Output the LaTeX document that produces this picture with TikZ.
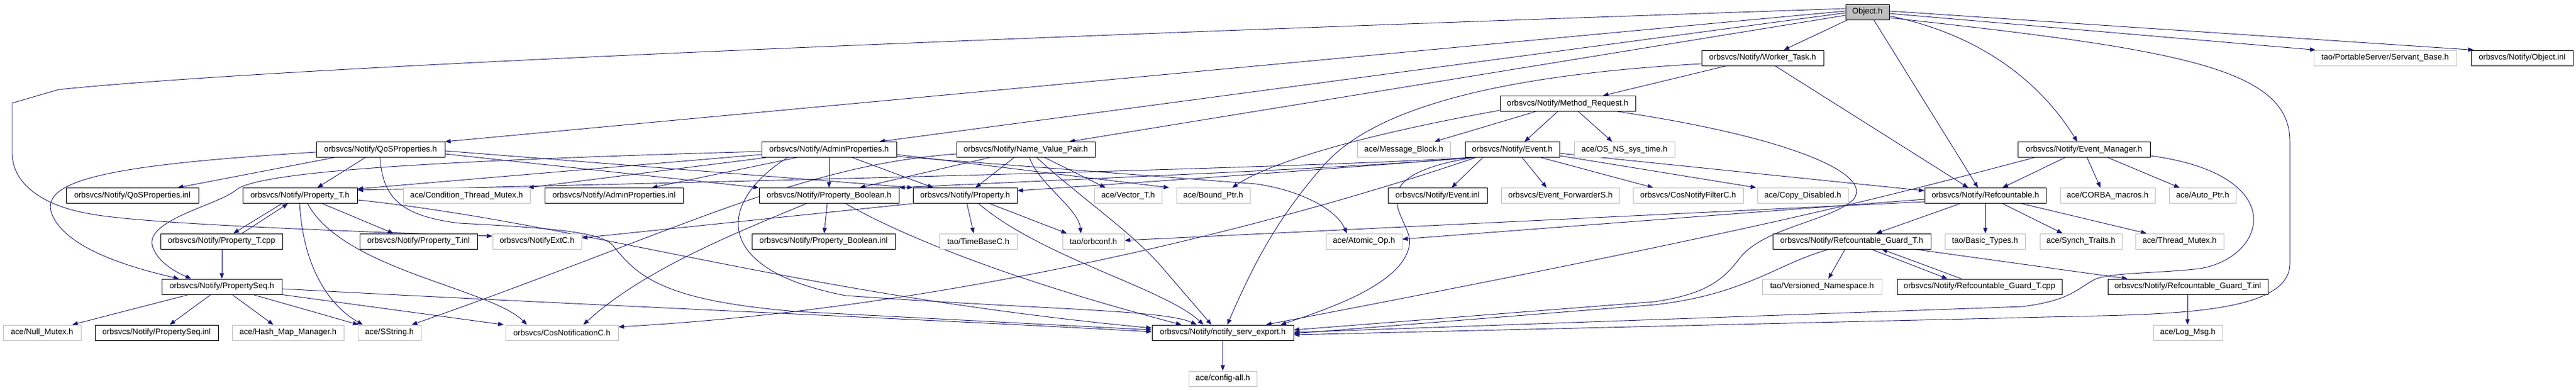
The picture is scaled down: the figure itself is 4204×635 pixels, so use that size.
\documentclass[tikz,border=0pt]{standalone}
\usepackage{fontspec}
\setmainfont{Liberation Sans}
\usetikzlibrary{arrows.meta,backgrounds}
\definecolor{edgec}{HTML}{191970}
\definecolor{grayb}{HTML}{BFBFBF}
\begin{document}
\begin{tikzpicture}[x=1pt,y=-1pt,
  box/.style={rectangle,inner sep=0pt,minimum height=25pt,line width=1pt,font=\fontsize{13.2}{15}\selectfont,text=black},
  bk/.style={box,draw=black,fill=white},
  gy/.style={box,draw=grayb,fill=white},
  rt/.style={box,draw=black,fill=grayb},
  lnk/.style={draw=edgec,line width=0.9pt,-{Triangle[length=9pt,width=7pt,fill=edgec]}}]
\useasboundingbox (0,0) rectangle (4204,635);
% row A
\node[rt,minimum width=71pt] (obj) at (3047.5,19.5) {Object.h};
% row B
\node[bk,minimum width=199pt] (wt) at (2876.5,94.5) {orbsvcs/Notify/Worker\_Task.h};
\node[gy,minimum width=233pt] (sb) at (3892.5,94.5) {tao/PortableServer/Servant\_Base.h};
\node[bk,minimum width=166pt] (oinl) at (4116,94.5) {orbsvcs/Notify/Object.inl};
% row C
\node[bk,minimum width=221pt] (mr) at (2558.5,169) {orbsvcs/Notify/Method\_Request.h};
% row D
\node[bk,minimum width=210pt] (qos) at (621,244) {orbsvcs/Notify/QoSProperties.h};
\node[bk,minimum width=220pt] (adm) at (1353,244) {orbsvcs/Notify/AdminProperties.h};
\node[bk,minimum width=226pt] (nvp) at (1674,244) {orbsvcs/Notify/Name\_Value\_Pair.h};
\node[gy,minimum width=152pt] (mb) at (2291,244) {ace/Message\_Block.h};
\node[bk,minimum width=154pt] (ev) at (2468,244) {orbsvcs/Notify/Event.h};
\node[gy,minimum width=164pt] (ost) at (2651,244) {ace/OS\_NS\_sys\_time.h};
\node[bk,minimum width=216pt] (em) at (3401,244) {orbsvcs/Notify/Event\_Manager.h};
% row E
\node[bk,minimum width=216pt] (qinl) at (216,319) {orbsvcs/Notify/QoSProperties.inl};
\node[bk,minimum width=187pt] (pth) at (489.5,319) {orbsvcs/Notify/Property\_T.h};
\node[gy,minimum width=207pt] (ctm) at (761.5,319) {ace/Condition\_Thread\_Mutex.h};
\node[bk,minimum width=226pt] (ainl) at (1002,319) {orbsvcs/Notify/AdminProperties.inl};
\node[bk,minimum width=228pt] (pb) at (1353,319) {orbsvcs/Notify/Property\_Boolean.h};
\node[bk,minimum width=170pt] (prop) at (1575,319) {orbsvcs/Notify/Property.h};
\node[gy,minimum width=110pt] (vec) at (1841,319) {ace/Vector\_T.h};
\node[gy,minimum width=120pt] (bp) at (1980,319) {ace/Bound\_Ptr.h};
\node[bk,minimum width=162pt] (einl) at (2346,319) {orbsvcs/Notify/Event.inl};
\node[gy,minimum width=193pt] (efs) at (2546.5,319) {orbsvcs/Event\_ForwarderS.h};
\node[gy,minimum width=180pt] (cnf) at (2755,319) {orbsvcs/CosNotifyFilterC.h};
\node[gy,minimum width=148pt] (cd) at (2942,319) {ace/Copy\_Disabled.h};
\node[bk,minimum width=198pt] (rc) at (3240,319) {orbsvcs/Notify/Refcountable.h};
\node[gy,minimum width=155pt] (cm) at (3439.5,319) {ace/CORBA\_macros.h};
\node[gy,minimum width=109pt] (ap) at (3594.5,319) {ace/Auto\_Ptr.h};
% row F
\node[bk,minimum width=199pt] (ptcpp) at (361.5,393.5) {orbsvcs/Notify/Property\_T.cpp};
\node[bk,minimum width=192pt] (ptinl) at (683,393.5) {orbsvcs/Notify/Property\_T.inl};
\node[gy,minimum width=145pt] (nec) at (876.5,393.5) {orbsvcs/NotifyExtC.h};
\node[bk,minimum width=234pt] (pbinl) at (1344,393.5) {orbsvcs/Notify/Property\_Boolean.inl};
\node[gy,minimum width=127pt] (tbc) at (1596.5,393.5) {tao/TimeBaseC.h};
\node[gy,minimum width=101pt] (oc) at (1784.5,393.5) {tao/orbconf.h};
\node[gy,minimum width=124pt] (ao) at (2226,393.5) {ace/Atomic\_Op.h};
\node[bk,minimum width=258pt] (rg) at (3022,393.5) {orbsvcs/Notify/Refcountable\_Guard\_T.h};
\node[gy,minimum width=131pt] (bt) at (3239.5,393.5) {tao/Basic\_Types.h};
\node[gy,minimum width=134pt] (st) at (3396,393.5) {ace/Synch\_Traits.h};
\node[gy,minimum width=144pt] (tm) at (3557,393.5) {ace/Thread\_Mutex.h};
% row G
\node[bk,minimum width=196pt] (ps) at (362,467.5) {orbsvcs/Notify/PropertySeq.h};
\node[gy,minimum width=195pt] (vn) at (2973.5,467.5) {tao/Versioned\_Namespace.h};
\node[bk,minimum width=269pt] (rgcpp) at (3230.5,467.5) {orbsvcs/Notify/Refcountable\_Guard\_T.cpp};
\node[bk,minimum width=261pt] (rginl) at (3570.5,467.5) {orbsvcs/Notify/Refcountable\_Guard\_T.inl};
% row H
\node[gy,minimum width=127pt] (nm) at (68.5,542.5) {ace/Null\_Mutex.h};
\node[bk,minimum width=201pt] (psinl) at (255.5,542.5) {orbsvcs/Notify/PropertySeq.inl};
\node[gy,minimum width=182pt] (hmm) at (470,542.5) {ace/Hash\_Map\_Manager.h};
\node[gy,minimum width=103pt] (ss) at (635.5,542.5) {ace/SString.h};
\node[gy,minimum width=184pt] (cnc) at (917,542.5) {orbsvcs/CosNotificationC.h};
\node[bk,minimum width=231pt] (nse) at (1995.5,542.5) {orbsvcs/Notify/notify\_serv\_export.h};
\node[gy,minimum width=113pt] (lm) at (3570.5,542.5) {ace/Log\_Msg.h};
% row I
\node[gy,minimum width=111pt] (ca) at (1995.5,617.5) {ace/config-all.h};

\begin{scope}[on background layer]
\fill[white] (0,0) rectangle (4204,635);
% ---- Object.h
\draw[lnk] (obj.south -| 3015,0) -- (wt.north -| 2911,0);
\draw[lnk] (obj.south -| 3058,0) -- (rc.north -| 3228,0);
\draw[lnk] (obj.east |- 0,26) .. controls (3250,60) and (3340,150) .. (em.north -| 3390,0);
\draw[lnk] (obj.east |- 0,22) -- (sb.north -| 3779,0);
\draw[lnk] (obj.east |- 0,18) -- (oinl.north -| 4037,0);
\draw[lnk] (obj.east |- 0,29) .. controls (3550,80) and (3737,110) .. (3737,230) -- (3737,430) .. controls (3737,520) and (3500,512) .. (3300,518) -- (nse.east |- 0,546);
\draw[lnk] (obj.west |- 0,14) .. controls (1800,55) and (500,105) .. (96,146) -- (20,168) -- (20,250) .. controls (20,300) and (70,335) .. (143,348) .. controls (200,360) and (400,372) .. (nec.west |- 0,385);
\draw[lnk] (obj.west |- 0,18) -- (qos.north east);
\draw[lnk] (obj.west |- 0,21) -- (adm.north -| 1435,0);
\draw[lnk] (obj.west |- 0,25) -- (nvp.north -| 1745,0);
% ---- Worker_Task.h
\draw[lnk] (wt.south -| 2817,0) -- (mr.north -| 2616,0);
\draw[lnk] (wt.south -| 2897,0) -- (rc.north -| 3212,0);
\draw[lnk] (wt.west |- 0,104) .. controls (2400,125) and (2230,190) .. (2160,270) .. controls (2090,350) and (2050,420) .. (nse.north -| 2003,0);
% ---- Method_Request.h
\draw[lnk] (mr.south -| 2542,0) -- (ev.north -| 2488,0);
\draw[lnk] (mr.south -| 2506,0) -- (mb.north -| 2341,0);
\draw[lnk] (mr.south -| 2576,0) -- (ost.north -| 2631,0);
\draw[lnk] (mr.west |- 0,180) .. controls (2250,215) and (2080,260) .. (bp.north -| 2011,0);
\draw[lnk] (mr.south -| 2640,0) .. controls (2900,220) and (3060,280) .. (3025,325) .. controls (2990,360) and (2880,370) .. (2840,420) .. controls (2810,460) and (2780,480) .. (2700,492) -- (nse.east |- 0,538);
% ---- Event.h
\draw[lnk] (ev.south -| 2420,0) -- (einl.north -| 2369,0);
\draw[lnk] (ev.south -| 2484,0) -- (efs.north -| 2524,0);
\draw[lnk] (ev.south -| 2515,0) -- (cnf.north -| 2698,0);
\draw[lnk] (ev.east |- 0,254) -- (cd.north -| 2866,0);
\draw[lnk] (ev.east |- 0,250) -- (rc.west |- 0,311);
\draw[lnk] (ev.south -| 2395,0) .. controls (2250,268) and (1500,290) .. (pth.east |- 0,310);
\draw[lnk] (ev.south -| 2398,0) .. controls (2250,270) and (1900,295) .. (prop.east |- 0,311);
\draw[lnk] (ev.south -| 2401,0) .. controls (2250,272) and (1800,290) .. (pb.north east);
\draw[lnk] (ev.south -| 2408,0) .. controls (2150,345) and (1600,500) .. (cnc.east |- 0,533);
\draw[lnk] (ev.south -| 2404,0) .. controls (2200,290) and (2310,360) .. (2300,400) .. controls (2290,460) and (2180,500) .. (nse.north -| 2090,0);
% ---- Event_Manager.h
\draw[lnk] (em.south -| 3370,0) -- (rc.north -| 3268,0);
\draw[lnk] (em.south -| 3406,0) -- (cm.north -| 3428,0);
\draw[lnk] (em.south -| 3440,0) -- (ap.north -| 3557,0);
\draw[lnk] (em.east |- 0,254) .. controls (3740,285) and (3700,420) .. (3590,438) .. controls (3520,446) and (3450,444) .. (3420,455) .. controls (3390,470) and (3380,490) .. (3300,500) -- (nse.east |- 0,542);
\draw[lnk] (em.south -| 3320,0) .. controls (3080,320) and (2900,370) .. (nse.north -| 2066,0);
% ---- Refcountable.h
\draw[lnk] (rc.south -| 3199,0) -- (rg.north -| 3062,0);
\draw[lnk] (rc.south -| 3240,0) -- (bt.north -| 3240,0);
\draw[lnk] (rc.south -| 3268,0) -- (st.north -| 3366,0);
\draw[lnk] (rc.south -| 3299,0) -- (tm.north -| 3503,0);
\draw[lnk] (rc.west |- 0,325) -- (ao.east |- 0,390);
\draw[lnk] (rc.west |- 0,329) -- (oc.east |- 0,392);
% ---- Refcountable_Guard_T
\draw[lnk] (rg.south -| 3011,0) -- (vn.north -| 2984,0);
\draw[lnk] (rg.south -| 3054,0) -- (rgcpp.north -| 3178,0);
\draw[lnk] (rgcpp.north -| 3201,0) -- (rg.south -| 3071,0);
\draw[lnk] (rg.south -| 3125,0) -- (rginl.north -| 3472,0);
\draw[lnk] (rg.south -| 2985,0) .. controls (2900,430) and (2850,480) .. (2700,497) -- (nse.east |- 0,544);
\draw[lnk] (rginl.south -| 3570,0) -- (lm.north -| 3570,0);
\draw[lnk] (nse.south) -- (ca.north);
% ---- Property_T
\draw[lnk] (pth.south -| 460,0) -- (ptcpp.north -| 381,0);
\draw[lnk] (ptcpp.north -| 395,0) -- (pth.south -| 470,0);
\draw[lnk] (pth.south -| 526,0) -- (ptinl.north -| 642,0);
\draw[lnk] (pth.south -| 489,0) .. controls (495,440) and (540,500) .. (ss.north -| 592,0);
\draw[lnk] (pth.south -| 502,0) .. controls (560,440) and (800,470) .. (cnc.north -| 860,0);
\draw[lnk] (pth.east |- 0,326) .. controls (950,365) and (1300,480) .. (nse.west |- 0,535);
\draw[lnk] (ptcpp.south -| 362,0) -- (ps.north -| 362,0);
% ---- PropertySeq
\draw[lnk] (ps.south -| 308,0) -- (nm.north -| 118,0);
\draw[lnk] (ps.south -| 344,0) -- (psinl.north -| 277,0);
\draw[lnk] (ps.south -| 379,0) -- (hmm.north -| 446,0);
\draw[lnk] (ps.south -| 413,0) -- (ss.north -| 585,0);
\draw[lnk] (ps.south east) -- (cnc.north -| 822,0);
\draw[lnk] (ps.east |- 0,471) .. controls (900,495) and (1500,520) .. (nse.west |- 0,541);
% ---- QoSProperties
\draw[lnk] (qos.west |- 0,248) .. controls (200,268) and (60,290) .. (85,350) .. controls (110,410) and (230,440) .. (ps.north -| 292,0);
\draw[lnk] (qos.south -| 545,0) -- (qinl.north -| 290,0);
\draw[lnk] (qos.south -| 596,0) -- (pth.north -| 518,0);
\draw[lnk] (qos.south -| 620,0) .. controls (625,320) and (650,352) .. (750,364) .. controls (900,372) and (980,378) .. (1000,400) .. controls (1040,450) and (1080,490) .. (1300,508) -- (nse.west |- 0,538);
\draw[lnk] (qos.east |- 0,251) -- (pb.north west);
\draw[lnk] (qos.east |- 0,246) -- (prop.north west);
% ---- AdminProperties
\draw[lnk] (adm.west |- 0,247) .. controls (700,262) and (420,280) .. (385,310) .. controls (355,335) and (230,360) .. (250,405) .. controls (260,430) and (290,445) .. (ps.north -| 312,0);
\draw[lnk] (adm.west |- 0,252) -- (pth.east |- 0,308);
\draw[lnk] (adm.south -| 1250,0) -- (ctm.north -| 862,0);
\draw[lnk] (adm.south -| 1300,0) -- (ainl.north -| 1064,0);
\draw[lnk] (adm.south) -- (pb.north);
\draw[lnk] (adm.south -| 1391,0) -- (prop.north -| 1523,0);
\draw[lnk] (adm.east |- 0,252) -- (bp.north -| 1908,0);
\draw[lnk] (adm.east |- 0,255) -- (2050,300) .. controls (2120,310) and (2180,340) .. (ao.north -| 2198,0);
\draw[lnk] (adm.south -| 1285,0) .. controls (1170,330) and (1160,440) .. (1380,482) .. controls (1700,505) and (1900,505) .. (nse.north -| 1953,0);
% ---- Name_Value_Pair
\draw[lnk] (nvp.south -| 1615,0) -- (pb.north -| 1403,0);
\draw[lnk] (nvp.south -| 1655,0) -- (prop.north -| 1592,0);
\draw[lnk] (nvp.south -| 1680,0) .. controls (1695,300) and (1760,340) .. (oc.north -| 1764,0);
\draw[lnk] (nvp.south -| 1705,0) -- (vec.north -| 1804,0);
\draw[lnk] (nvp.south -| 1692,0) .. controls (1760,320) and (1850,380) .. (1900,440) -- (nse.north -| 1977,0);
\draw[lnk] (nvp.west |- 0,251) .. controls (1300,270) and (1100,380) .. (ss.north -| 672,0);
% ---- Property.h
\draw[lnk] (prop.south -| 1578,0) -- (tbc.north -| 1589,0);
\draw[lnk] (prop.south -| 1615,0) -- (oc.north -| 1741,0);
\draw[lnk] (prop.south -| 1597,0) .. controls (1700,420) and (1900,470) .. (nse.north -| 1964,0);
\draw[lnk] (prop.south west) -- (nec.east |- 0,388);
% ---- Property_Boolean.h
\draw[lnk] (pb.south -| 1350,0) -- (pbinl.north -| 1345,0);
\draw[lnk] (pb.south -| 1316,0) .. controls (1200,380) and (1050,440) .. (cnc.north -| 952,0);
\draw[lnk] (pb.south -| 1380,0) .. controls (1500,400) and (1700,470) .. (nse.north -| 1928,0);
\end{scope}
\end{tikzpicture}
\end{document}
